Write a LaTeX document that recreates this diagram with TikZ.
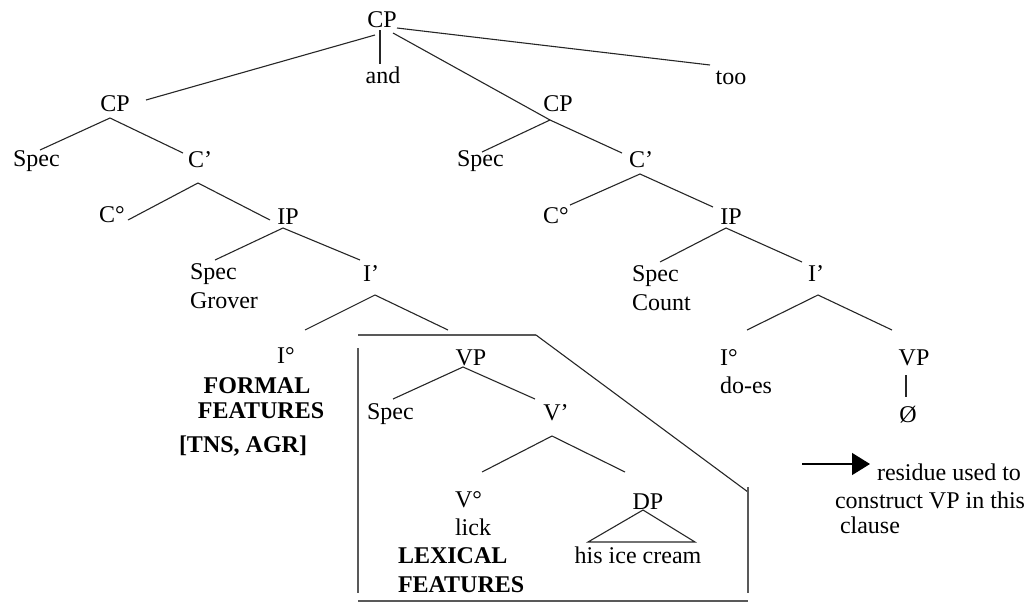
\documentclass[tikz,border=0pt]{standalone}
\usepackage{fontspec}
\setmainfont{Liberation Serif}
\usetikzlibrary{arrows.meta}
\tikzset{
  lbl/.style={inner sep=0pt, outer sep=0pt, anchor=base, font=\fontsize{24}{28}\selectfont},
  lblw/.style={lbl, anchor=base west},
  blbl/.style={lbl, font=\fontsize{24}{28}\selectfont\bfseries},
  blblw/.style={blbl, anchor=base west},
  branch/.style={draw=black!85, line width=1.1pt},
  boxline/.style={draw=black!65, line width=1.8pt},
  pointer/.style={draw=black, line width=1.3pt, -{Triangle[length=18pt,width=22pt]}}
}
\begin{document}
\begin{tikzpicture}[x=1pt,y=-1pt]
\useasboundingbox (0,0) rectangle (1033,603);

% ---------- labels ----------
\node[lbl] (cpT) at (382,27) {CP};
\node[lbl] (and) at (383,83) {and};
\node[lbl] (too) at (731,84) {too};
\node[lbl] (cpL) at (115,111) {CP};
\node[lbl] (cpR) at (558,111) {CP};
\node[lblw] (specL) at (13,166) {Spec};
\node[lbl] (cbarL) at (200,167) {C'};
\node[lbl] (c0L) at (112,222) {C°};
\node[lbl] (ipL) at (288,224) {IP};
\node[lblw] (specL2) at (190,279) {Spec};
\node[lblw] (grover) at (190,308) {Grover};
\node[lbl] (ibarL) at (371,281) {I'};
\node[lbl] (i0L) at (286,363) {I°};
\node[blbl] (formal) at (257,393) {FORMAL};
\node[blbl] (featF) at (261,418) {FEATURES};
\node[blbl] (tns) at (243,452) {[TNS, AGR]};

\node[lblw] (specR) at (457,166) {Spec};
\node[lbl] (cbarR) at (641,167) {C'};
\node[lbl] (c0R) at (556,223) {C°};
\node[lbl] (ipR) at (731,224) {IP};
\node[lblw] (specR2) at (632,281) {Spec};
\node[lblw] (count) at (632,310) {Count};
\node[lbl] (ibarR) at (816,281) {I'};
\node[lblw] (i0R) at (720,365) {I°};
\node[lblw] (does) at (720,393) {do-es};
\node[lbl] (vpR) at (914,365) {VP};
\node[lbl] (empty) at (908,422) {Ø};

\node[lbl] (vpB) at (471,365) {VP};
\node[lblw] (specB) at (367,419) {Spec};
\node[lbl] (vbar) at (556,420) {V'};
\node[lblw] (v0) at (455,507) {V°};
\node[lblw] (lick) at (455,535) {lick};
\node[blblw] (lexical) at (398,563) {LEXICAL};
\node[blblw] (featL) at (398,592) {FEATURES};
\node[lbl] (dp) at (648,509) {DP};
\node[lbl] (hic) at (638,563) {his ice cream};

\node[lblw] (res1) at (877,480) {residue used to};
\node[lblw] (res2) at (835,508) {construct VP in this};
\node[lblw] (res3) at (840,533) {clause};

% ---------- connector end points ----------
\coordinate (cpT-a) at (380,30);  \coordinate (and-t) at (380,64);
\coordinate (cpT-l) at (375,35);  \coordinate (cpL-t) at (146,100);
\coordinate (cpT-r) at (397,28);  \coordinate (too-t) at (710,65);
\coordinate (cpT-m) at (393,33);
\coordinate (jCPL) at (110,118);  \coordinate (specL-t) at (40,150);  \coordinate (cbarL-t) at (183,153);
\coordinate (jCbL) at (198,183);  \coordinate (c0L-t) at (128,220);   \coordinate (ipL-t) at (270,220);
\coordinate (jIPL) at (283,228);  \coordinate (specL2-t) at (215,260); \coordinate (ibarL-t) at (360,260);
\coordinate (jIbL) at (375,295);  \coordinate (i0L-t) at (305,330);   \coordinate (vpbox-t) at (448,330);
\coordinate (jCPR) at (550,120);  \coordinate (specR-t) at (482,152); \coordinate (cbarR-t) at (622,153);
\coordinate (jCbR) at (640,174);  \coordinate (c0R-t) at (570,205);   \coordinate (ipR-t) at (713,207);
\coordinate (jIPR) at (726,228);  \coordinate (specR2-t) at (660,262); \coordinate (ibarR-t) at (802,262);
\coordinate (jIbR) at (818,295);  \coordinate (i0R-t) at (747,330);   \coordinate (vpR-t) at (892,330);
\coordinate (jVPR) at (906,375);  \coordinate (empty-t) at (906,397);
\coordinate (jVPB) at (463,367);  \coordinate (specB-t) at (393,399); \coordinate (vbar-t) at (535,399);
\coordinate (jVb) at (552,436);   \coordinate (v0-t) at (482,472);    \coordinate (dp-t) at (625,472);
\coordinate (dpApex) at (643,510); \coordinate (dpL) at (588,542);    \coordinate (dpR) at (695,542);
\coordinate (boxTL) at (358,335); \coordinate (boxTR) at (536,335);   \coordinate (boxDg) at (748,492);
\coordinate (boxRt) at (748,487); \coordinate (boxRb) at (748,593);
\coordinate (boxLt) at (358,348); \coordinate (boxLb) at (358,593);
\coordinate (boxBl) at (358,601); \coordinate (boxBr) at (748,601);
\coordinate (arrS) at (802,464);  \coordinate (arrE) at (870,464);

% ---------- tree branches ----------
\path[branch] (cpT-a) -- (and-t);
\path[branch] (cpT-l) -- (cpL-t);
\path[branch] (cpT-r) -- (too-t);
\path[branch] (cpT-m) -- (jCPR);
\path[branch] (specL-t) -- (jCPL) -- (cbarL-t);
\path[branch] (c0L-t) -- (jCbL) -- (ipL-t);
\path[branch] (specL2-t) -- (jIPL) -- (ibarL-t);
\path[branch] (i0L-t) -- (jIbL) -- (vpbox-t);
\path[branch] (specR-t) -- (jCPR) -- (cbarR-t);
\path[branch] (c0R-t) -- (jCbR) -- (ipR-t);
\path[branch] (specR2-t) -- (jIPR) -- (ibarR-t);
\path[branch] (i0R-t) -- (jIbR) -- (vpR-t);
\path[branch] (jVPR) -- (empty-t);
\path[branch] (specB-t) -- (jVPB) -- (vbar-t);
\path[branch] (v0-t) -- (jVb) -- (dp-t);
\path[branch] (dpApex) -- (dpL) -- (dpR) -- cycle;

% ---------- box around the VP ----------
\path[boxline] (boxTL) -- (boxTR);
\path[branch] (boxTR) -- (boxDg);
\path[boxline] (boxRt) -- (boxRb);
\path[boxline] (boxLt) -- (boxLb);
\path[boxline] (boxBl) -- (boxBr);

% ---------- arrow ----------
\path[pointer] (arrS) -- (arrE);
\end{tikzpicture}
\end{document}
